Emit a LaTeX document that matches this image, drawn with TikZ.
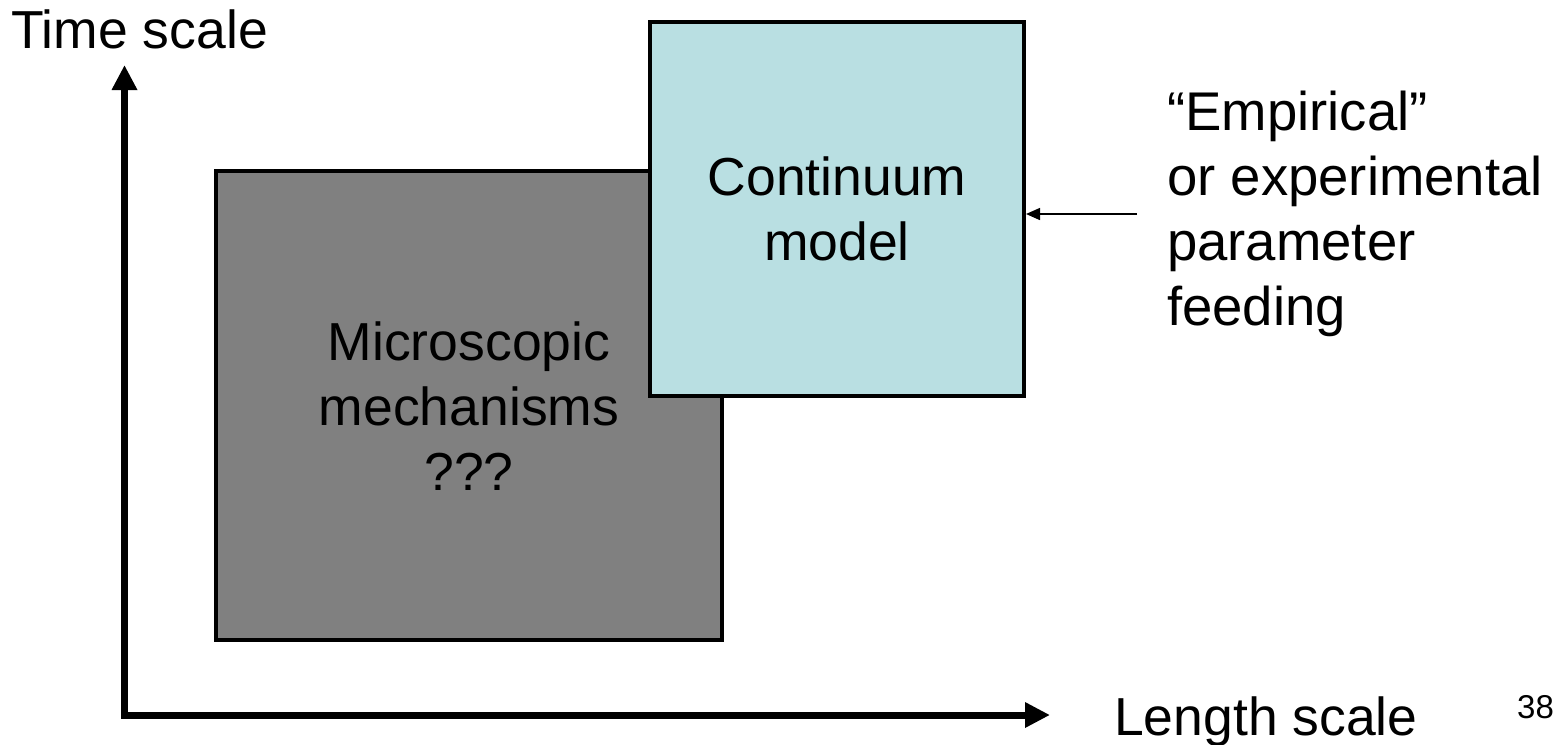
\documentclass[tikz,border=0pt]{standalone}
\usepackage{fontspec}
\setmainfont{Liberation Sans}
\usetikzlibrary{arrows.meta}
\definecolor{boxgray}{HTML}{808080}
\definecolor{boxcyan}{HTML}{B9DFE2}
\tikzset{
  bigtxt/.style={inner sep=0pt, font=\fontsize{53.5}{65}\selectfont},
  boxstyle/.style={draw=black, line width=4pt, inner sep=0pt, minimum width=#1},
  axis/.style={line width=7pt, line join=miter, {Triangle[length=25pt,width=24pt]}-{Triangle[length=25pt,width=24pt]}},
  feedarrow/.style={line width=1.5pt, -{Triangle[length=14pt,width=12pt]}}
}
\begin{document}
\begin{tikzpicture}[x=1pt,y=-1pt]
\useasboundingbox (0,0) rectangle (1554,744);
% axes
\coordinate (origin) at (124.5,715);
\coordinate (ytip) at (124.5,65);
\coordinate (xtip) at (1050,715);
\draw[axis] (ytip) -- (origin) -- (xtip);
% boxes
\node[boxstyle=506pt, minimum height=469pt, fill=boxgray] (micro) at (469,405.5) {};
\node[boxstyle=374pt, minimum height=374pt, fill=boxcyan] (cont) at (837,209) {};
% texts (base anchor = baseline of last line)
\node[bigtxt, anchor=base, align=center] (microtxt) at (469,490) {Microscopic\\mechanisms\\???};
\node[bigtxt, anchor=base, align=center] (conttxt) at (837,260) {Continuum\\model};
\node[bigtxt, anchor=base west, align=left, font=\fontsize{54.5}{65}\selectfont] (emp) at (1167,325) {“Empirical”\\or experimental\\parameter\\feeding};
\node[bigtxt, anchor=base west] (tlabel) at (11,48) {Time scale};
\node[bigtxt, anchor=base west] (llabel) at (1114,735) {Length scale};
\node[inner sep=0pt, anchor=base west, font=\fontsize{33}{40}\selectfont] (page) at (1517,718) {38};
% feed arrow
\coordinate (feed) at (1137,214);
\draw[feedarrow] (feed) -- (feed -| cont.east);
\end{tikzpicture}
\end{document}
